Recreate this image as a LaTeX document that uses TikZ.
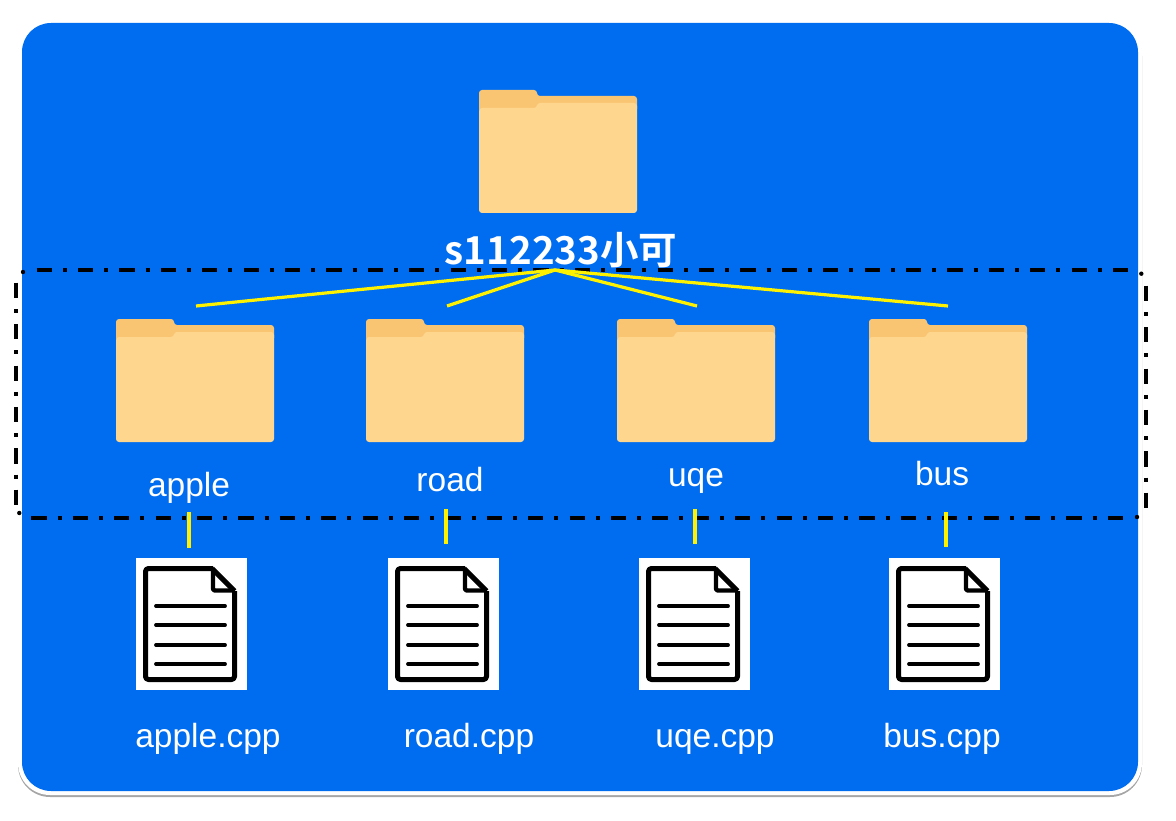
\documentclass[tikz,border=0pt]{standalone}
\usepackage{fontspec}
\setmainfont{Liberation Sans}
\newfontfamily\titlefont[BoldFont={Noto Sans CJK SC Bold}]{Noto Sans CJK SC}
\definecolor{cardblue}{HTML}{006DF0}
\definecolor{folderfront}{HTML}{FED68E}
\definecolor{folderback}{HTML}{FAC573}
\tikzset{
  x=1pt,y=-1pt,
  lbl/.style={text=white,anchor=base,inner sep=0pt,font=\fontsize{33.5}{36}\selectfont},
  ttl/.style={text=white,anchor=base,inner sep=0pt,font=\titlefont\bfseries\fontsize{38.5}{42}\selectfont},
  frameline/.style={black,line width=4pt,dash pattern=on 15.2pt off 11.1pt on 4pt off 11.1pt},
  framedot/.style={black,line width=0pt,fill=black},
  link/.style={yellow,line width=3.2pt},
  docline/.style={black,line width=3.8pt,line cap=round},
  pics/folder/.style={code={
    \fill[folderback,rounded corners=3pt] (0,22) -- (0,0) -- (58,0) -- (58,6) -- (158,6) -- (158,22) -- cycle;
    \fill[folderfront,rounded corners=3pt] (0,123) -- (0,18) -- (58,18) -- (58,13) -- (158,13) -- (158,123) -- cycle;
    \coordinate (-body) at (79,60);
  }},
  pics/doc/.style={code={
    \fill[white] (0,0) rectangle (111,132);
    \draw[black,line width=5pt,line join=round,rounded corners=3pt] (77,10.5) -- (9.5,10.5) -- (9.5,121.5) -- (98.5,121.5) -- (98.5,33);
    \draw[black,line width=5pt,line join=round] (76,10.5) -- (98.5,33);
    \draw[black,line width=4.4pt,line join=round,rounded corners=2pt] (77,10.5) -- (77,32.5) -- (98.5,32.5);
    \draw[docline] (20,48) -- (89,48);
    \draw[docline] (20,67) -- (89,67);
    \draw[docline] (20,87) -- (89,87);
    \draw[docline] (20,106) -- (89,106);
    \coordinate (-body) at (55,66);
  }}
}
\begin{document}
\begin{tikzpicture}
\useasboundingbox (0,0) rectangle (1176,821);
% card
\fill[black!35,rounded corners=32pt] (18,24) rectangle (1142,797);
\fill[white,rounded corners=32pt] (18,21) rectangle (1142,795);
\fill[cardblue,rounded corners=29pt] (22,23) rectangle (1138,791);
% folders
\pic (root) at (479,90) {folder};
\pic (fa) at (116,319) {folder};
\pic (fb) at (366,319) {folder};
\pic (fc) at (617,319) {folder};
\pic (fd) at (869,319) {folder};
% documents
\pic (da) at (136,558) {doc};
\pic (db) at (388,558) {doc};
\pic (dc) at (639,558) {doc};
\pic (dd) at (889,558) {doc};
% dash-dot frame
\coordinate (tl) at (36.5,270.5);
\coordinate (tr) at (1129,270.5);
\coordinate (bl) at (31.3,518);
\coordinate (br) at (1124.3,518);
\coordinate (ltop) at (16,282.7);
\coordinate (lbot) at (16,505);
\coordinate (rtop) at (1145.7,285.7);
\coordinate (rbot) at (1145.7,507.7);
\draw[frameline] (tl) -- (tr);
\draw[frameline] (bl) -- (br);
\draw[frameline] (ltop) -- (lbot);
\draw[frameline] (rtop) -- (rbot);
\fill[framedot] (23,272) circle (2.2);
\fill[framedot] (19.3,513) circle (2.2);
\fill[framedot] (1141.3,273.7) circle (2.2);
\fill[framedot] (1137,517) circle (2.2);
% connectors
\coordinate (hub) at (555,270);
\coordinate (ea) at (196,306);
\coordinate (eb) at (447,306);
\coordinate (ec) at (697,306);
\coordinate (ed) at (948,306);
\draw[link] (hub) -- (ea);
\draw[link] (hub) -- (eb);
\draw[link] (hub) -- (ec);
\draw[link] (hub) -- (ed);
\coordinate (a1) at (189,512); \coordinate (a2) at (189,548);
\coordinate (b1) at (446,509); \coordinate (b2) at (446,544);
\coordinate (c1) at (694.5,509); \coordinate (c2) at (694.5,544);
\coordinate (d1) at (946,512); \coordinate (d2) at (946,547);
\draw[link,line width=4pt] (a1) -- (a2);
\draw[link,line width=4pt] (b1) -- (b2);
\draw[link,line width=4pt] (c1) -- (c2);
\draw[link,line width=4pt] (d1) -- (d2);
% labels
\node[ttl] (title) at (561,265) {\textbf{s112233小可}};
\node[lbl] (la) at (189,496) {apple};
\node[lbl] (lb) at (450,491) {road};
\node[lbl] (lc) at (696,486) {uqe};
\node[lbl] (ld) at (942,485) {bus};
\node[lbl] (ca) at (208,747) {apple.cpp};
\node[lbl] (cb) at (469,747) {road.cpp};
\node[lbl] (cc) at (715,747) {uqe.cpp};
\node[lbl] (cd) at (942,747) {bus.cpp};
\end{tikzpicture}
\end{document}
